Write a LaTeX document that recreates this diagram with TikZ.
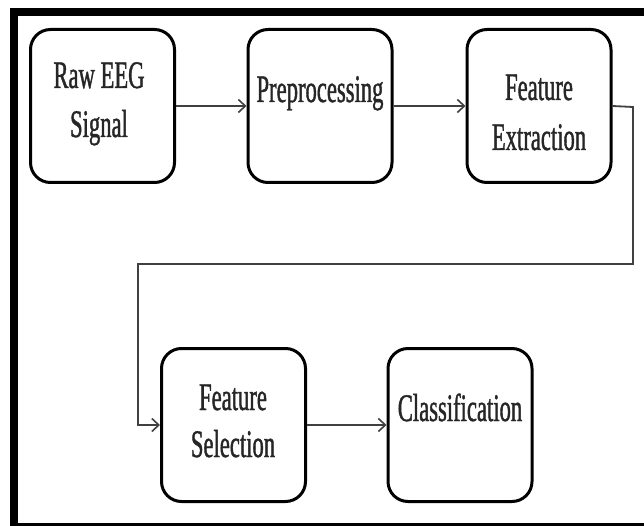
\documentclass[tikz,border=0pt]{standalone}
\usepackage{fontspec}
\setmainfont{Liberation Serif}[FakeStretch=0.58, FakeBold=1.0]
\usetikzlibrary{arrows.meta}
\begin{document}
\begin{tikzpicture}[x=1pt,y=-1pt,
  stage/.style={draw=black, line width=3pt, rounded corners=20pt,
    minimum width=144pt, minimum height=153pt, inner sep=0pt, fill=white},
  label/.style={anchor=base, inner sep=0pt, text=black!85, font=\fontsize{39}{46}\selectfont},
  flow/.style={draw=black!75, line width=1.8pt,
    -{Straight Barb[length=7pt,width=13pt,line width=1.6pt]}}]
  \useasboundingbox (0,0) rectangle (644,526);
  \fill[white] (0,0) rectangle (644,526);
  % page frame: heavy top and left bars, thin bottom rule
  \fill[black] (10,8) rectangle (644,16);
  \fill[black] (10,8) rectangle (18,526);
  \fill[black] (10,523) rectangle (644,525.5);

  % processing stages
  \node[stage] (raw)  at (102.5,106) {};
  \node[stage] (pre)  at (320,106)   {};
  \node[stage] (ext)  at (539,106)   {};
  \node[stage] (sel)  at (233.5,425) {};
  \node[stage] (cls)  at (460,425)   {};

  % stage captions
  \node[label] (rawA) at (99,88)  {Raw EEG};
  \node[label] (rawB) at (99,137) {Signal};
  \node[label] (preA) at (320,102) {Preprocessing};
  \node[label] (extA) at (539,100) {Feature};
  \node[label] (extB) at (539,150) {Extraction};
  \node[label] (selA) at (233,410) {Feature};
  \node[label] (selB) at (233,457) {Selection};
  \node[label] (clsA) at (460,421) {Classification};

  % connectors
  \coordinate (c1) at (633,107);
  \coordinate (c2) at (633,264);
  \coordinate (c3) at (138,264);
  \coordinate (c4) at (138,425);
  \draw[flow] (raw.east) -- (pre.west);
  \draw[flow] (pre.east) -- (ext.west);
  \draw[flow] (ext.east) -- (c1) -- (c2) -- (c3) -- (c4) -- (sel.west);
  \draw[flow] (sel.east) -- (cls.west);
\end{tikzpicture}
\end{document}
